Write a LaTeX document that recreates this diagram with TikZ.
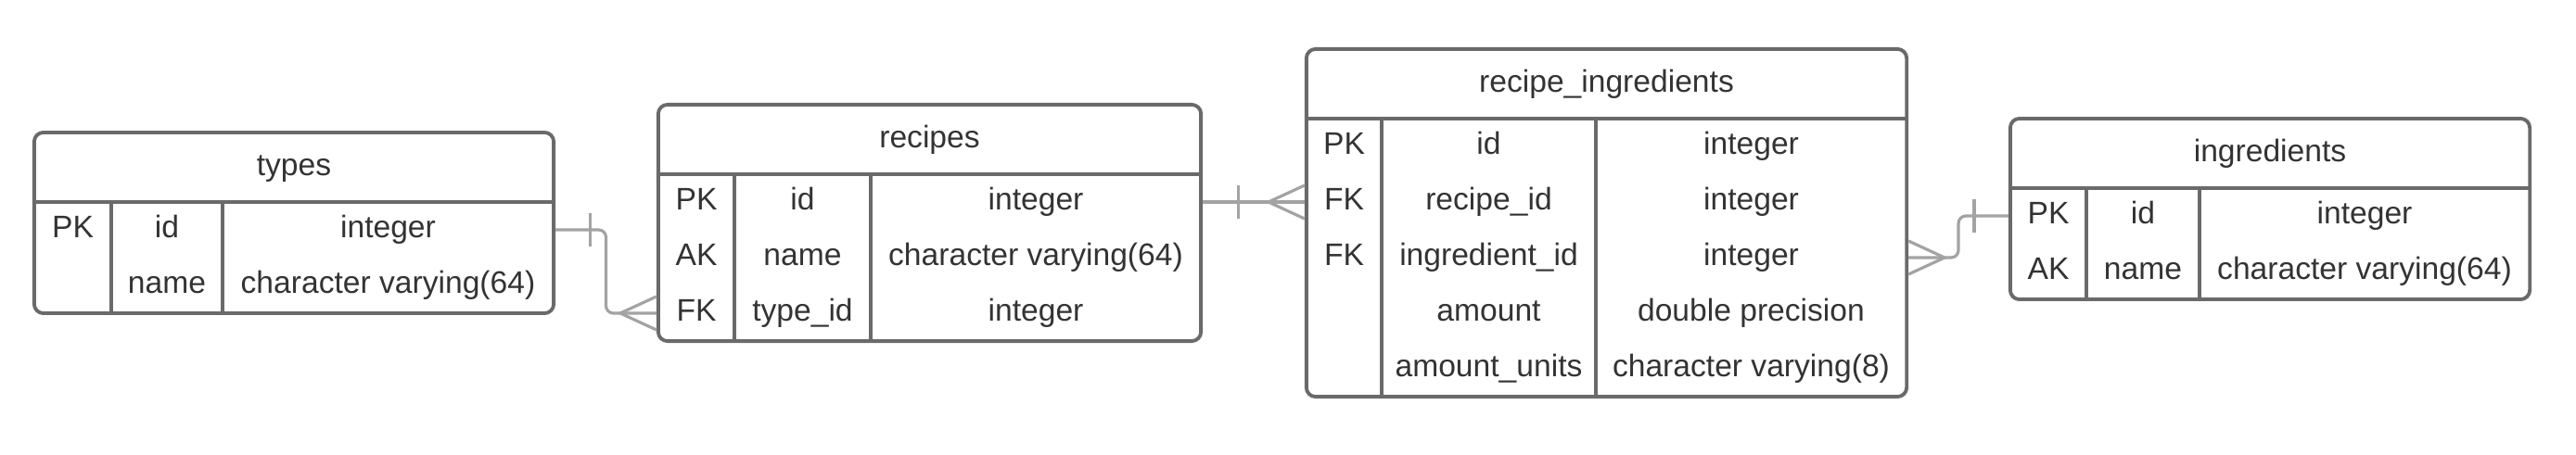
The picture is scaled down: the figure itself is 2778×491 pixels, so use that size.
\documentclass[tikz,border=0pt]{standalone}
\usepackage{fontspec}
\setmainfont{Liberation Sans}
\usetikzlibrary{positioning}
\usetikzlibrary{calc}
\definecolor{boxgray}{HTML}{6A6A6A}
\definecolor{linkgray}{HTML}{A3A3A3}
\definecolor{txtgray}{HTML}{333333}
\tikzset{
    tbox/.style = {rectangle, rounded corners=0.1cm, line width=1.1pt, draw=boxgray, inner sep=0},
    tcell/.style = {inner sep=0, text=txtgray, text height=0.25cm, text depth=0.08cm},
    gridl/.style = {-, line width=1.1pt, boxgray},
    edgec/.style = {-, line width=0.9pt, linkgray, rounded corners=0.08cm},
    crow/.style = {-, line width=0.9pt, linkgray}, % feet and bars
}

\begin{document}
\begin{tikzpicture}[x=0.01cm, y=-0.01cm, font=\fontsize{9.56}{11}\selectfont]
\useasboundingbox (0,0) rectangle (2778,491);
% types
\node[tbox, minimum width=5.60cm, minimum height=1.95cm] at (317, 240.5) (types) {};
\node[tcell] at (317, 180.5) (ty-title) {types};
\node[tcell] at (78.5, 248) (ty-pk) {PK};
\node[tcell] at (180, 248) (ty-id) {id};
\node[tcell] at (418.5, 248) (ty-idt) {integer};
\node[tcell] at (180, 308) (ty-name) {name};
\node[tcell] at (418.5, 308) (ty-namet) {character varying(64)};
\draw[gridl] (37, 218) -- (597, 218);
\draw[gridl] (120, 218) -- (120, 338);
\draw[gridl] (240, 218) -- (240, 338);
% recipes
\node[tbox, minimum width=5.85cm, minimum height=2.55cm] at (1002.5, 240.5) (recipes) {};
\node[tcell] at (1002.5, 150.5) (re-title) {recipes};
\node[tcell] at (751, 218) (re-pk) {PK};
\node[tcell] at (865.5, 218) (re-id) {id};
\node[tcell] at (1117, 218) (re-idt) {integer};
\node[tcell] at (751, 278) (re-ak) {AK};
\node[tcell] at (865.5, 278) (re-name) {name};
\node[tcell] at (1117, 278) (re-namet) {character varying(64)};
\node[tcell] at (751, 338) (re-fk) {FK};
\node[tcell] at (865.5, 338) (re-tid) {type\_id};
\node[tcell] at (1117, 338) (re-tidt) {integer};
\draw[gridl] (710, 188) -- (1295, 188);
\draw[gridl] (792, 188) -- (792, 368);
\draw[gridl] (939, 188) -- (939, 368);
% recipe_ingredients
\node[tbox, minimum width=6.47cm, minimum height=3.75cm] at (1732.5, 240.5) (recing) {};
\node[tcell] at (1732.5, 90.5) (ri-title) {recipe\_ingredients};
\node[tcell] at (1449.5, 158) (ri-pk) {PK};
\node[tcell] at (1605.5, 158) (ri-id) {id};
\node[tcell] at (1888.5, 158) (ri-idt) {integer};
\node[tcell] at (1449.5, 218) (ri-fk1) {FK};
\node[tcell] at (1605.5, 218) (ri-rid) {recipe\_id};
\node[tcell] at (1888.5, 218) (ri-ridt) {integer};
\node[tcell] at (1449.5, 278) (ri-fk2) {FK};
\node[tcell] at (1605.5, 278) (ri-iid) {ingredient\_id};
\node[tcell] at (1888.5, 278) (ri-iidt) {integer};
\node[tcell] at (1605.5, 338) (ri-amt) {amount};
\node[tcell] at (1888.5, 338) (ri-amtt) {double precision};
\node[tcell] at (1605.5, 398) (ri-unit) {amount\_units};
\node[tcell] at (1888.5, 398) (ri-unitt) {character varying(8)};
\draw[gridl] (1409, 128) -- (2056, 128);
\draw[gridl] (1490, 128) -- (1490, 428);
\draw[gridl] (1721, 128) -- (1721, 428);
% ingredients
\node[tbox, minimum width=5.60cm, minimum height=1.95cm] at (2448, 225.5) (ingred) {};
\node[tcell] at (2448, 165.5) (in-title) {ingredients};
\node[tcell] at (2209, 233) (in-pk) {PK};
\node[tcell] at (2311, 233) (in-id) {id};
\node[tcell] at (2550, 233) (in-idt) {integer};
\node[tcell] at (2209, 293) (in-ak) {AK};
\node[tcell] at (2311, 293) (in-name) {name};
\node[tcell] at (2550, 293) (in-namet) {character varying(64)};
\draw[gridl] (2168, 203) -- (2728, 203);
\draw[gridl] (2250, 203) -- (2250, 323);
\draw[gridl] (2372, 203) -- (2372, 323);
%
\coordinate (ty-out) at (types.east |- ty-id);
\coordinate (re-in) at (recipes.west |- re-tid);
\coordinate (re-out) at (recipes.east |- re-id);
\coordinate (ri-in) at (recing.west |- ri-rid);
\coordinate (in-out) at (ingred.west |- in-id);
\coordinate (ri-out) at (recing.east |- ri-iid);
%
\draw[edgec] (ty-out) -| ($(ty-out)!0.5!(re-in)$) |- (re-in);
\draw[edgec] (re-out) -- (ri-in);
\draw[edgec] (in-out) -| ($(in-out)!0.5!(ri-out)$) |- (ri-out);
%
\draw[crow] (ty-out) ++(37,-18) -- ++(0,36);
\draw[crow] (re-in) ++(0,-18) -- ++(-39,18) -- ++(39,18);
\draw[crow] (re-out) ++(38,-18) -- ++(0,36);
\draw[crow] (ri-in) ++(0,-18) -- ++(-39,18) -- ++(39,18);
\draw[crow] (in-out) ++(-37,-18) -- ++(0,36);
\draw[crow] (ri-out) ++(0,-18) -- ++(39,18) -- ++(-39,18);

\end{tikzpicture}
\end{document}
